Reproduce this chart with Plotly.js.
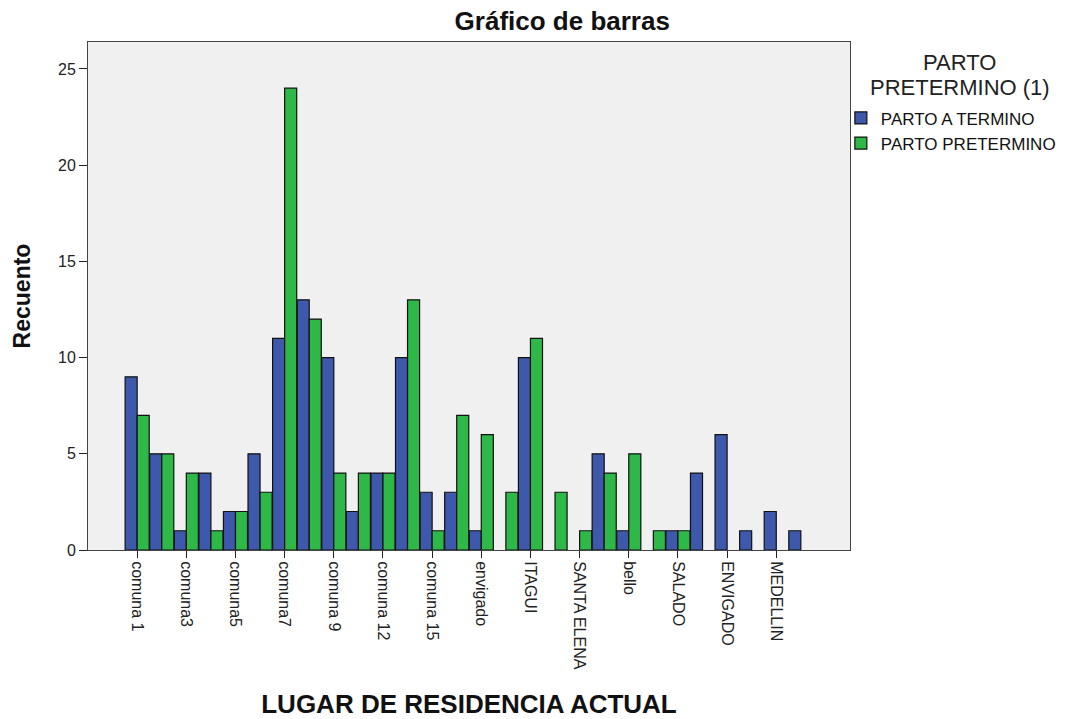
<!DOCTYPE html>
<html>
<head>
<meta charset="utf-8">
<script src="https://cdn.plot.ly/plotly-3.0.1.min.js"></script>
<style>html,body{margin:0;padding:0;background:#fff;}#chart{width:1073px;height:719px;}</style>
</head>
<body>
<div id="chart"></div>
<script>
// Categories (only every other label is drawn, as in the reference)
var categories = [
  "comuna 1", "comuna 2", "comuna3", "comuna4", "comuna5", "comuna6", "comuna7",
  "comuna 8", "comuna 9", "comuna 10", "comuna 12", "comuna 13", "comuna 15", "comuna 16",
  "envigado", "caldas", "ITAGUI", "SABANETA", "SANTA ELENA", "BELLO", "bello",
  "COPACABANA", "SALADO", "LA ESTRELLA", "ENVIGADO", "SAN ANTONIO", "MEDELLIN", "OTRO"
];
var tickLabels = [
  "comuna 1", "comuna3", "comuna5", "comuna7", "comuna 9", "comuna 12", "comuna 15",
  "envigado", "ITAGUI", "SANTA ELENA", "bello", "SALADO", "ENVIGADO", "MEDELLIN"
];
var seriesNames = ["PARTO A TERMINO", "PARTO PRETERMINO"];
var legendTitleLines = ["PARTO", "PRETERMINO (1)"];
var partoATermino   = [9, 5, 1, 4, 2, 5, 11, 13, 10, 2, 4, 10, 3, 3, 1, 0, 10, 0, 0, 5, 1, 0, 1, 4, 6, 1, 2, 1];
var partoPretermino = [7, 5, 4, 1, 2, 3, 24, 12, 4, 4, 4, 13, 1, 7, 6, 3, 11, 3, 1, 4, 5, 1, 1, 0, 0, 0, 0, 0];

var tickVals = categories.filter(function(c, i){ return i % 2 === 0; });
// empty (zero-count) bars are not drawn in the reference
function hideZeros(arr){ return arr.map(function(v){ return v === 0 ? null : v; }); }

var traces = [
  {type: 'bar', name: seriesNames[0], x: categories, y: hideZeros(partoATermino),
   marker: {color: '#3E58AC', line: {color: '#111', width: 1.2}}, hoverinfo: 'x+y+name'},
  {type: 'bar', name: seriesNames[1], x: categories, y: hideZeros(partoPretermino),
   marker: {color: '#2EB848', line: {color: '#111', width: 1.2}}, hoverinfo: 'x+y+name'}
];

var titleYs = [0.9606, 0.9114];
var legendTitleAnnotations = legendTitleLines.map(function(t, i){
  return {
    text: t, xref: 'paper', yref: 'paper',
    x: 1.144, xanchor: 'center', y: titleYs[i], yanchor: 'middle',
    showarrow: false, font: {size: 22, color: '#222'}
  };
});

var layout = {
  width: 1073, height: 719,
  margin: {l: 88, r: 221, t: 42, b: 169},
  paper_bgcolor: '#ffffff',
  plot_bgcolor: '#F0F0F0',
  barmode: 'group', bargap: 0.02, bargroupgap: 0,
  font: {family: 'Liberation Sans, Arial, sans-serif', color: '#222'},
  title: {text: '<b>Gráfico de barras</b>', x: 0.524, xanchor: 'center',
          yref: 'container', y: 0.971, yanchor: 'middle',
          font: {size: 26, color: '#111'}},
  xaxis: {
    type: 'category', range: [-2, 29],
    tickmode: 'array', tickvals: tickVals, ticktext: tickLabels,
    tickangle: 90, ticks: 'outside', ticklen: 7, tickcolor: '#222', tickwidth: 1,
    tickfont: {size: 16, color: '#222'},
    showline: true, linecolor: '#444', linewidth: 1, mirror: true,
    showgrid: false, zeroline: false,
    title: {text: '<b>LUGAR DE RESIDENCIA ACTUAL</b>', font: {size: 26, color: '#111'}, standoff: 28}
  },
  yaxis: {
    range: [0, 26.4], tickvals: [0, 5, 10, 15, 20, 25],
    ticks: 'outside', ticklen: 8, tickcolor: '#222', tickwidth: 1,
    tickfont: {size: 16, color: '#222'},
    showline: true, linecolor: '#444', linewidth: 1, mirror: true,
    showgrid: false, zeroline: false,
    title: {text: '<b>Recuento</b>', font: {size: 23, color: '#111'}, standoff: 20}
  },
  legend: {
    x: 0.988, xanchor: 'left', y: 0.885, yanchor: 'top',
    bgcolor: 'rgba(0,0,0,0)', tracegroupgap: 0,
    font: {size: 17, color: '#111'},
    itemwidth: 30
  },
  annotations: legendTitleAnnotations,
  showlegend: true
};

Plotly.newPlot('chart', traces, layout, {displayModeBar: false, staticPlot: true});
</script>
</body>
</html>
